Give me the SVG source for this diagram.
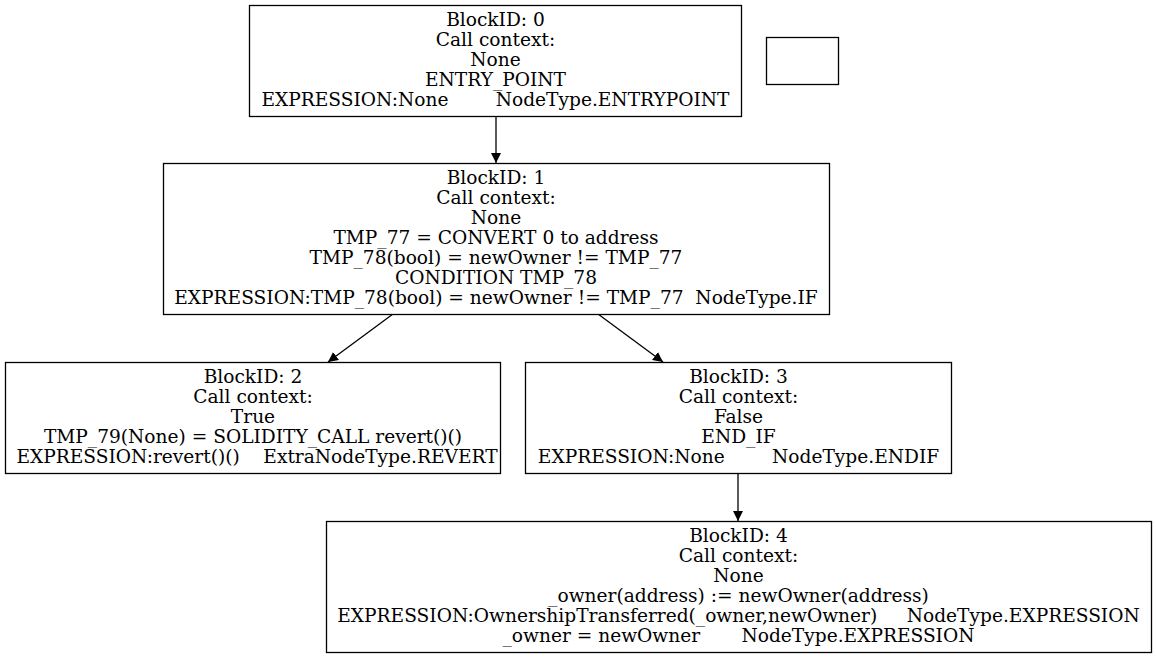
<svg xmlns="http://www.w3.org/2000/svg" width="1156" height="657" viewBox="0 0 1156 657">
<defs>
<marker id="arr" viewBox="0 0 10 10" refX="10" refY="5" markerWidth="10" markerHeight="10" markerUnits="userSpaceOnUse" orient="auto">
<path d="M0,0 L10,5 L0,10 z" fill="#000"/>
</marker>
</defs>
<style>
rect.n{fill:#fff;stroke:#000;stroke-width:1.3}
text{font-family:"DejaVu Serif",serif;font-size:18.6px;fill:#000;text-anchor:middle}
.e line{stroke:#000;stroke-width:1.3;marker-end:url(#arr)}
</style>
<rect width="1156" height="657" fill="#fff"/>
<g class="e" id="edges">
<line x1="496" y1="116.5" x2="496" y2="163"/>
<line x1="393" y1="314" x2="328" y2="362"/>
<line x1="598" y1="314" x2="663" y2="362"/>
<line x1="738" y1="473" x2="738" y2="521"/>
</g>
<g id="node0">
<rect class="n" x="249.5" y="5.5" width="492" height="111"/>
<text x="495.5" y="26">BlockID: 0</text>
<text x="495.5" y="46">Call context:</text>
<text x="495.5" y="66">None</text>
<text x="495.5" y="86">ENTRY_POINT</text>
<text x="495.5" y="106" xml:space="preserve">EXPRESSION:None        NodeType.ENTRYPOINT</text>
</g>
<g id="nodeEmpty">
<rect class="n" x="766.5" y="37.5" width="72" height="47"/>
</g>
<g id="node1">
<rect class="n" x="163.5" y="163.5" width="666" height="151"/>
<text x="496" y="184">BlockID: 1</text>
<text x="496" y="204">Call context:</text>
<text x="496" y="224">None</text>
<text x="496" y="244">TMP_77 = CONVERT 0 to address</text>
<text x="496" y="264">TMP_78(bool) = newOwner != TMP_77</text>
<text x="496" y="284">CONDITION TMP_78</text>
<text x="496" y="304" xml:space="preserve">EXPRESSION:TMP_78(bool) = newOwner != TMP_77  NodeType.IF</text>
</g>
<g id="node2">
<rect class="n" x="5.5" y="362.5" width="495" height="111"/>
<text x="253" y="383">BlockID: 2</text>
<text x="253" y="403">Call context:</text>
<text x="253" y="423">True</text>
<text x="253" y="443">TMP_79(None) = SOLIDITY_CALL revert()()</text>
<text x="257" y="463" xml:space="preserve">EXPRESSION:revert()()    ExtraNodeType.REVERT</text>
</g>
<g id="node3">
<rect class="n" x="525.5" y="362.5" width="426" height="111"/>
<text x="738.5" y="383">BlockID: 3</text>
<text x="738.5" y="403">Call context:</text>
<text x="738.5" y="423">False</text>
<text x="738.5" y="443">END_IF</text>
<text x="738.5" y="463" xml:space="preserve">EXPRESSION:None        NodeType.ENDIF</text>
</g>
<g id="node4">
<rect class="n" x="326.5" y="521.5" width="825" height="131"/>
<text x="738.5" y="542">BlockID: 4</text>
<text x="738.5" y="562">Call context:</text>
<text x="738.5" y="582">None</text>
<text x="738.5" y="602">_owner(address) := newOwner(address)</text>
<text x="738.5" y="622" xml:space="preserve">EXPRESSION:OwnershipTransferred(_owner,newOwner)     NodeType.EXPRESSION</text>
<text x="738.5" y="642" xml:space="preserve">_owner = newOwner       NodeType.EXPRESSION</text>
</g>
</svg>
